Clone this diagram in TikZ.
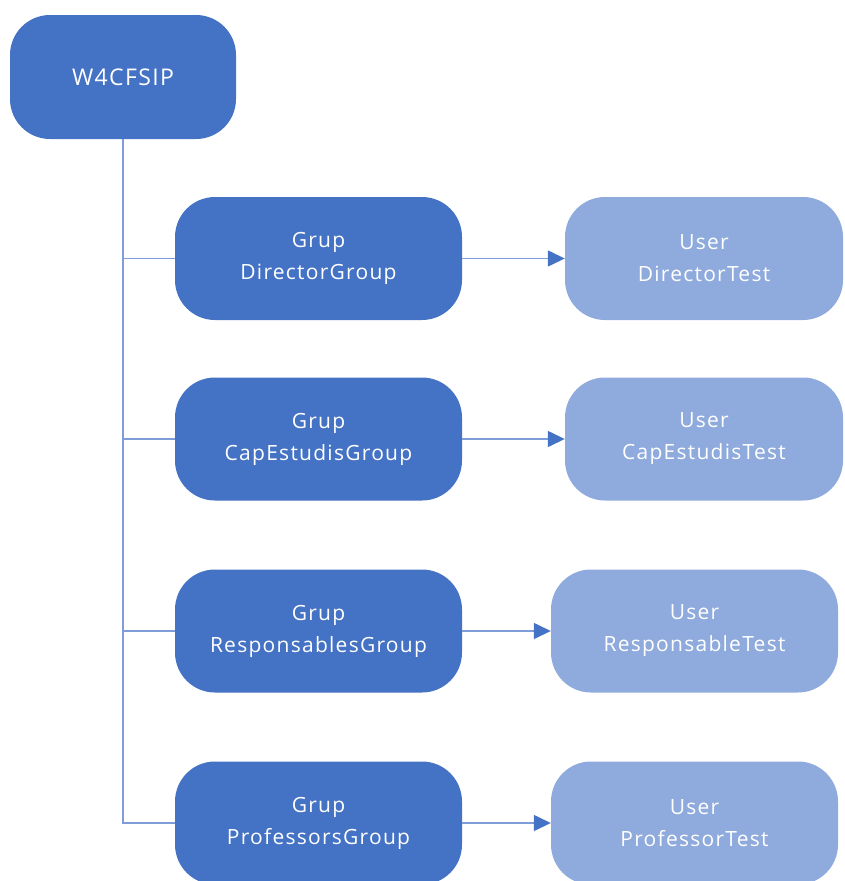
\documentclass[tikz,border=0pt]{standalone}
\usepackage{fontspec}
\setmainfont{Open Sans}[LetterSpace=6]
\usetikzlibrary{
  positioning,
  arrows.meta
}
\definecolor{groupBlue}{HTML}{4472C4}
\definecolor{userBlue}{HTML}{8FAADC}
\definecolor{lineBlue}{HTML}{7E9DD9}
\tikzset{
  base/.style={
    rounded corners=40pt, minimum height=123pt, align=center,
    text=white, font=\fontsize{21}{32}\selectfont, inner sep=0pt
  },
  rootNode/.style={
    base, fill=groupBlue, minimum width=226pt, minimum height=124pt,
    font=\fontsize{23}{32}\selectfont
  },
  groupNode/.style={
    base, fill=groupBlue, minimum width=287pt
  },
  userNode/.style={
    base, fill=userBlue, minimum width=287pt
  },
  treeLine/.style={
    draw=lineBlue, line width=1.4pt
  },
  linkArrow/.style={
    treeLine, -{Triangle[length=17pt,width=16pt,color=groupBlue]}
  }
}
\begin{document}
\begin{tikzpicture}[x=1pt, y=-1pt]
\useasboundingbox (0,0) rectangle (844,881);

% ── Root ────────────────────────────────────────────────────────────
\node[rootNode] (root) at (123,77) {W4CFSIP};

% ── Groups ──────────────────────────────────────────────────────────
\node[groupNode] (G1) at (318.5,258.5) {Grup\\DirectorGroup};
\node[groupNode] (G2) at (318.5,439)   {Grup\\CapEstudisGroup};
\node[groupNode] (G3) at (318.5,631)   {Grup\\ResponsablesGroup};
\node[groupNode] (G4) at (318.5,823)   {Grup\\ProfessorsGroup};

% ── Users ───────────────────────────────────────────────────────────
\node[userNode, minimum width=278pt] (U1) at (704,258.5) {User\\DirectorTest};
\node[userNode, minimum width=278pt] (U2) at (704,439)   {User\\CapEstudisTest};
\node[userNode] (U3) at (694.5,631) {User\\ResponsableTest};
\node[userNode] (U4) at (694.5,823) {User\\ProfessorTest};

% ── EDGES ───────────────────────────────────────────────────────────
% Root → Groups
\draw[treeLine] (root.south) |- (G4.west);
\draw[treeLine] (root.south |- G1.west) -- (G1.west);
\draw[treeLine] (root.south |- G2.west) -- (G2.west);
\draw[treeLine] (root.south |- G3.west) -- (G3.west);

% Groups → Users
\draw[linkArrow] (G1.east) -- (U1.west);
\draw[linkArrow] (G2.east) -- (U2.west);
\draw[linkArrow] (G3.east) -- (U3.west);
\draw[linkArrow] (G4.east) -- (U4.west);

\end{tikzpicture}
\end{document}
